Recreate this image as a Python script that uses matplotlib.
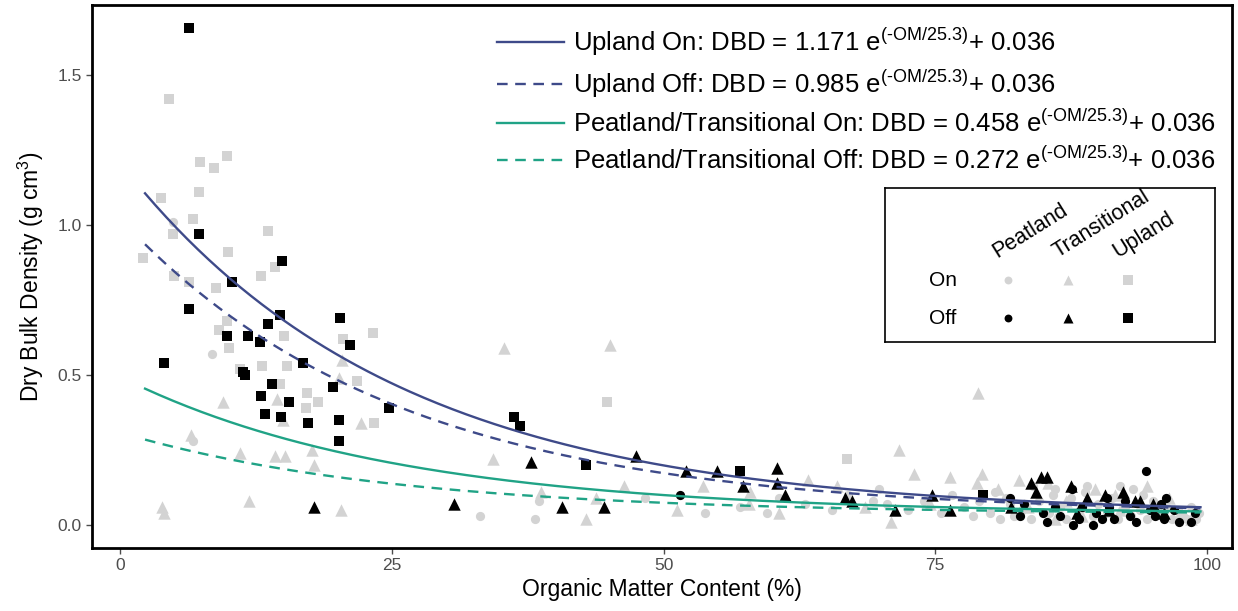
import numpy as np
import matplotlib
matplotlib.use("Agg")
import matplotlib.pyplot as plt
from matplotlib.lines import Line2D

plt.rcParams["font.family"] = ["Liberation Sans", "DejaVu Sans"]
plt.rcParams["mathtext.fontset"] = "custom"
plt.rcParams["mathtext.rm"] = "Liberation Sans"

# ---------- data ----------
# Upland On (light squares)
upland_on_x = [4.5, 7.4, 8.6, 9.8, 7.3, 3.8, 6.7, 13.6, 4.9, 9.9, 2.1, 14.3, 13.0, 5.0, 6.3, 8.8,
               9.8, 9.1, 10.0, 15.1, 11.0, 13.1, 15.4, 23.3, 20.5, 21.8, 23.4, 14.7, 17.2, 18.2,
               17.1, 44.8, 66.9]
upland_on_y = [1.42, 1.21, 1.19, 1.23, 1.11, 1.09, 1.02, 0.98, 0.97, 0.91, 0.89, 0.86, 0.83, 0.83, 0.81, 0.79,
               0.68, 0.65, 0.59, 0.63, 0.52, 0.53, 0.53, 0.64, 0.62, 0.48, 0.34, 0.47, 0.44, 0.41,
               0.39, 0.41, 0.22]

# Upland Off (black squares)
upland_off_x = [6.3, 7.3, 14.9, 10.3, 6.3, 14.7, 13.6, 9.8, 11.8, 12.9, 4.0, 11.3, 11.5, 20.2, 21.2,
                16.8, 19.6, 14.0, 13.0, 15.5, 13.3, 14.8, 17.3, 20.1, 20.1, 24.7, 36.2, 36.8, 42.9,
                57.0, 79.4]
upland_off_y = [1.657, 0.97, 0.88, 0.81, 0.72, 0.70, 0.67, 0.63, 0.63, 0.61, 0.54, 0.51, 0.50, 0.69, 0.60,
                0.54, 0.46, 0.47, 0.43, 0.41, 0.37, 0.36, 0.34, 0.35, 0.28, 0.39, 0.36, 0.33, 0.20,
                0.18, 0.10]

# Transitional On (light triangles)
trans_on_x = [20.4, 20.1, 14.4, 9.5, 15.0, 22.2, 6.5, 17.7, 11.0, 14.3, 15.2, 17.8, 11.9, 20.3, 3.9, 4.0,
              35.3, 45.1, 34.3, 38.7, 43.8, 46.4, 42.9, 51.2, 53.6, 58.0, 57.9, 60.6, 63.3, 78.9,
              71.7, 73.0, 76.4, 70.9, 79.3, 82.7, 80.8, 85.4, 89.7, 78.8, 91.5, 94.5, 96.5, 83.5,
              87.0, 92.0, 97.5, 88.5, 95.5, 98.5, 66.0, 68.5, 74.5, 86.0]
trans_on_y = [0.55, 0.49, 0.42, 0.41, 0.35, 0.34, 0.30, 0.25, 0.24, 0.23, 0.23, 0.20, 0.08, 0.05, 0.06, 0.04,
              0.59, 0.60, 0.22, 0.11, 0.09, 0.13, 0.02, 0.05, 0.13, 0.11, 0.07, 0.04, 0.15, 0.44,
              0.25, 0.17, 0.16, 0.01, 0.17, 0.15, 0.12, 0.14, 0.12, 0.14, 0.10, 0.13, 0.09, 0.06,
              0.08, 0.05, 0.04, 0.03, 0.06, 0.02, 0.13, 0.06, 0.07, 0.02]

# Transitional Off (black triangles)
trans_off_x = [17.8, 37.8, 30.7, 40.7, 44.5, 47.5, 52.1, 54.9, 57.3, 60.4, 60.4, 61.2, 84.7, 83.8, 84.3,
               87.5, 92.3, 66.7, 67.3, 74.7, 71.3, 76.4, 89.0, 90.6, 93.4, 93.8, 85.3, 96.0, 82.0,
               91.0, 88.0, 95.0]
trans_off_y = [0.06, 0.21, 0.07, 0.06, 0.06, 0.23, 0.18, 0.18, 0.13, 0.19, 0.14, 0.10, 0.16, 0.14, 0.11,
               0.13, 0.11, 0.09, 0.08, 0.10, 0.05, 0.05, 0.09, 0.10, 0.08, 0.08, 0.16, 0.04, 0.06,
               0.05, 0.04, 0.07]

# Peatland On (light circles)
peat_on_x = [4.9, 8.5, 6.7, 33.1, 38.2, 38.5, 48.3, 53.8, 60.6, 69.8, 69.3, 70.6, 80.0, 81.0, 78.5, 77.6,
             82.2, 81.9, 93.2, 94.1, 85.8, 98.2, 72.5, 74.0, 75.5, 76.5, 79.0, 80.5, 83.0, 83.8,
             84.5, 85.5, 86.5, 87.0, 87.5, 88.3, 88.8, 89.5, 90.0, 90.8, 91.3, 91.8, 92.5, 93.0,
             93.8, 94.5, 95.0, 95.6, 96.2, 96.8, 97.3, 97.8, 98.5, 99.0, 99.3, 86.0, 89.0, 92.0,
             84.0, 81.5, 63.0, 65.5, 67.0, 57.0, 59.5]
peat_on_y = [1.01, 0.57, 0.28, 0.03, 0.02, 0.08, 0.09, 0.04, 0.09, 0.12, 0.08, 0.07, 0.04, 0.02, 0.03, 0.06,
             0.03, 0.07, 0.12, 0.10, 0.10, 0.02, 0.05, 0.08, 0.04, 0.10, 0.08, 0.11, 0.05, 0.02,
             0.08, 0.04, 0.06, 0.02, 0.09, 0.05, 0.11, 0.03, 0.07, 0.04, 0.09, 0.02, 0.06, 0.03,
             0.05, 0.02, 0.08, 0.04, 0.06, 0.02, 0.05, 0.03, 0.06, 0.02, 0.04, 0.12, 0.13, 0.13,
             0.13, 0.09, 0.07, 0.05, 0.10, 0.06, 0.04]

# Peatland Off (black circles)
peat_off_x = [51.5, 94.4, 96.2, 97.4, 81.9, 83.2, 87.6, 92.5, 90.3, 91.4, 92.9, 95.2, 87.7, 89.5, 84.9,
              85.3, 86.5, 88.5, 89.8, 91.0, 93.5, 94.8, 96.0, 97.0, 98.5, 98.9, 86.0, 82.8, 90.8,
              88.2, 95.8]
peat_off_y = [0.10, 0.18, 0.09, 0.01, 0.09, 0.07, 0.12, 0.08, 0.02, 0.02, 0.03, 0.03, 0.00, 0.00, 0.04,
              0.01, 0.03, 0.06, 0.04, 0.06, 0.01, 0.05, 0.02, 0.05, 0.01, 0.04, 0.06, 0.03, 0.09,
              0.02, 0.07]

# fitted curves: DBD = a * exp(-OM / k) + c
fit_names = ["Upland On", "Upland Off", "Peatland/Transitional On", "Peatland/Transitional Off"]
fit_a = [1.171, 0.985, 0.458, 0.272]
fit_k = 25.3
fit_c = 0.036
om_min, om_max = 2.3, 99.4

# ---------- styling ----------
LIGHT = "#D3D3D3"
BLUE = "#3E4A89"
GREEN = "#20A386"
fit_colors = [BLUE, BLUE, GREEN, GREEN]
fit_styles = ["-", (0, (4.5, 3.2)), "-", (0, (4.5, 3.2))]

fig = plt.figure(figsize=(12.38, 6.11), dpi=100)
ax = fig.add_axes([92 / 1238, 1 - 548 / 611, 1140 / 1238, 543 / 611])

ax.scatter(peat_on_x, peat_on_y, marker="o", s=44, c=LIGHT, lw=0, zorder=2)
ax.scatter(trans_on_x, trans_on_y, marker="^", s=80, c=LIGHT, lw=0, zorder=2)
ax.scatter(upland_on_x, upland_on_y, marker="s", s=52, c=LIGHT, lw=0, zorder=2)
ax.scatter(peat_off_x, peat_off_y, marker="o", s=44, c="black", lw=0, zorder=3)
ax.scatter(trans_off_x, trans_off_y, marker="^", s=80, c="black", lw=0, zorder=3)
ax.scatter(upland_off_x, upland_off_y, marker="s", s=52, c="black", lw=0, zorder=3)

om = np.linspace(om_min, om_max, 300)
handles = []
labels = []
for name, a, col, ls in zip(fit_names, fit_a, fit_colors, fit_styles):
    ax.plot(om, a * np.exp(-om / fit_k) + fit_c, color=col, ls=ls, lw=1.7, zorder=4)
    handles.append(Line2D([], [], color=col, ls=ls, lw=1.7))
    labels.append(name + ": DBD = %.3f e$^{\\mathregular{(\u2010OM/%.1f)}}$+ %.3f" % (a, fit_k, fit_c))

ax.set_xlim(-2.58, 102.3)
ax.set_ylim(-0.077, 1.733)
ax.set_xticks([0, 25, 50, 75, 100])
ax.set_yticks([0.0, 0.5, 1.0, 1.5])
ax.set_yticklabels(["0.0", "0.5", "1.0", "1.5"])
ax.tick_params(colors="#4D4D4D", labelsize=12.5, length=4, width=1)
for sp in ax.spines.values():
    sp.set_linewidth(2)
    sp.set_color("black")
ax.set_xlabel("Organic Matter Content (%)", fontsize=16.5, labelpad=3)
ax.set_ylabel("Dry Bulk Density (g cm$^{\\mathregular{3}}$)", fontsize=16.5, labelpad=8)

leg = ax.legend(handles, labels, loc="upper left", bbox_to_anchor=(0.335, 1.005), frameon=False,
                fontsize=18.5, handlelength=2.6, handletextpad=0.35, labelspacing=0.35)

# shape/colour key as a boxed inset
key = ax.inset_axes([0.6956, 0.379, 0.2895, 0.284])
key.set_xlim(0, 330)
key.set_ylim(0, 154)
key.set_xticks([])
key.set_yticks([])
for sp in key.spines.values():
    sp.set_linewidth(1.2)
    sp.set_color("black")
key_cols = ["Peatland", "Transitional", "Upland"]
key_marks = ["o", "^", "s"]
key_sizes = [32, 52, 42]
key_x = [123, 183, 243]
key_rows = [("On", LIGHT, 62), ("Off", "black", 24)]
for lab, col, yy in key_rows:
    key.text(58, yy, lab, ha="center", va="center", fontsize=15)
    for xx, m, sz in zip(key_x, key_marks, key_sizes):
        key.scatter([xx], [yy], marker=m, s=sz, c=col, lw=0)
for xx, lab in zip(key_x, key_cols):
    key.text(xx - 8, 80, lab, rotation=32, ha="left", va="bottom", fontsize=15.5,
             rotation_mode="anchor")

fig.savefig("out.png", dpi=100)
